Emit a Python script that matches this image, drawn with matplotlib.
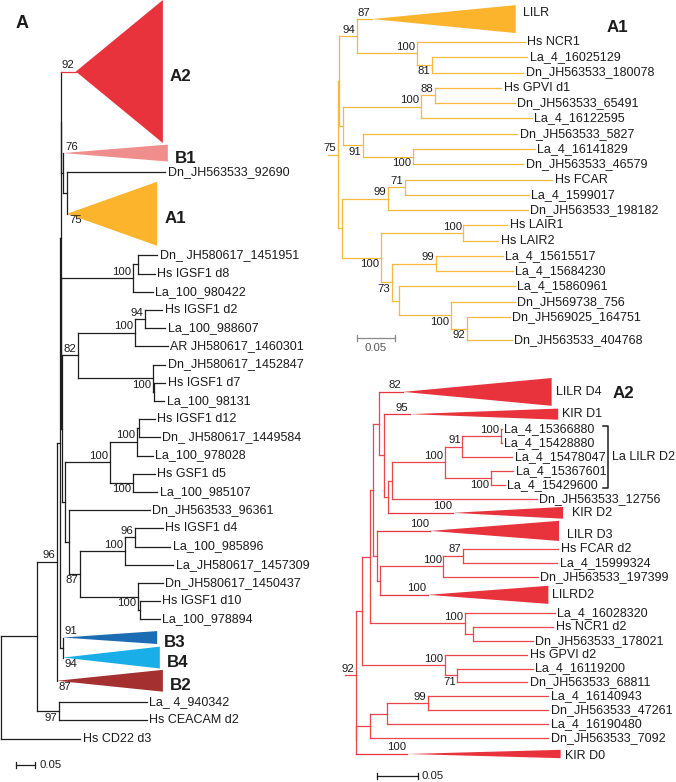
import matplotlib
matplotlib.use("Agg")
import matplotlib.pyplot as plt
from matplotlib.patches import Polygon

plt.rcParams['font.family'] = ['Liberation Sans', 'DejaVu Sans']

# ---- trees: (node, parent, depth from root in subst./site, bootstrap) ----
# internal nodes start with "n", everything else is a leaf or a collapsed clade

LEFT_TREE = [
    ("root", None, 0.0, None),
    ("n96", "root", 0.095, None),
    ("nbig", "n96", 0.147, 96),
    ("nx", "nbig", 0.155, None),
    ("ny", "nx", 0.157, None),
    ("nz", "ny", 0.159, None),
    ("A2", "nz", 0.197, 92),
    ("nb1", "nz", 0.163, None),
    ("B1", "nb1", 0.163, 76),
    ("na1", "nb1", 0.174, None),
    ("Dn_JH563533_92690", "na1", 0.432, None),
    ("A1", "na1", 0.174, 75),
    ("nw", "ny", 0.158, None),
    ("nd8", "nw", 0.347, 100),
    ("nd8a", "nd8", 0.361, None),
    ("Dn_ JH580617_1451951", "nd8a", 0.411, None),
    ("Hs IGSF1 d8", "nd8a", 0.405, None),
    ("La_100_980422", "nd8", 0.400, None),
    ("nv", "nw", 0.160, None),
    ("n82", "nv", 0.203, 82),
    ("nd2", "n82", 0.353, 100),
    ("nd2a", "nd2", 0.379, 94),
    ("Hs IGSF1 d2", "nd2a", 0.424, None),
    ("La_100_988607", "nd2a", 0.432, None),
    ("AR JH580617_1460301", "nd2", 0.439, None),
    ("nd7", "n82", 0.399, 100),
    ("Dn_JH580617_1452847", "nd7", 0.432, None),
    ("nd7a", "nd7", 0.403, None),
    ("Hs IGSF1 d7", "nd7a", 0.432, None),
    ("La_100_98131", "nd7a", 0.429, None),
    ("n65", "nv", 0.168, None),
    ("nd12", "n65", 0.287, 100),
    ("nd12a", "nd12", 0.358, 100),
    ("nd12b", "nd12a", 0.362, None),
    ("Hs IGSF1 d12", "nd12b", 0.405, None),
    ("Dn_ JH580617_1449584", "nd12b", 0.418, None),
    ("La_100_978028", "nd12a", 0.400, None),
    ("nd5", "nd12", 0.347, 100),
    ("Hs GSF1 d5", "nd5", 0.405, None),
    ("La_100_985107", "nd5", 0.411, None),
    ("n69", "n65", 0.179, None),
    ("Dn_JH563533_96361", "n69", 0.392, None),
    ("n87", "n69", 0.208, 87),
    ("nd4", "n87", 0.326, 100),
    ("nd4a", "nd4", 0.353, 96),
    ("Hs IGSF1 d4", "nd4a", 0.426, None),
    ("La_100_985896", "nd4a", 0.445, None),
    ("La_JH580617_1457309", "nd4", 0.453, None),
    ("nd10", "n87", 0.361, 100),
    ("Dn_JH580617_1450437", "nd10", 0.426, None),
    ("nd10a", "nd10", 0.366, None),
    ("Hs IGSF1 d10", "nd10a", 0.418, None),
    ("La_100_978894", "nd10a", 0.418, None),
    ("nb34", "nx", 0.163, None),
    ("B3", "nb34", 0.163, 91),
    ("B4", "nb34", 0.163, 94),
    ("B2", "nbig", 0.147, 87),
    ("n97", "n96", 0.153, 97),
    ("La_ 4_940342", "n97", 0.384, None),
    ("Hs CEACAM d2", "n97", 0.384, None),
    ("Hs CD22 d3", "root", 0.208, None),
]
LEFT_BELOW = {"nd7", "nd5", "n87", "nd10", "A1", "B4", "B2", "n97"}
LEFT_CLADE_TIP = {"A2": 0.426, "B1": 0.439, "A1": 0.411, "B3": 0.411, "B4": 0.418, "B2": 0.426}
LEFT_ROWS = {"A2": 7.86, "B1": 1.1, "A1": 3.57, "B3": 1.0, "B4": 1.2, "B2": 1.35}
LEFT_CLADE_HEIGHT = {"A2": 7.86, "B1": 0.93, "A1": 3.52, "B3": 0.71, "B4": 1.2, "B2": 1.2}

A1_TREE = [
    ("r", None, 0.0, None),
    ("n75", "r", 0.013, 75),
    ("ns", "n75", 0.014, None),
    ("n94", "ns", 0.038, 94),
    ("LILR", "n94", 0.058, 87),
    ("nncr", "n94", 0.117, 100),
    ("Hs NCR1", "nncr", 0.259, None),
    ("n81", "nncr", 0.137, 81),
    ("La_4_16025129", "n81", 0.262, None),
    ("Dn_JH563533_180078", "n81", 0.257, None),
    ("nu", "ns", 0.020, None),
    ("ngp", "nu", 0.122, 100),
    ("n88", "ngp", 0.141, 88),
    ("Hs GPVI d1", "n88", 0.228, None),
    ("Dn_JH563533_65491", "n88", 0.246, None),
    ("La_4_16122595", "ngp", 0.268, None),
    ("n91", "nu", 0.046, 91),
    ("Dn_JH563533_5827", "n91", 0.249, None),
    ("n100c", "n91", 0.112, 100),
    ("La_4_16141829", "n100c", 0.272, None),
    ("Dn_JH563533_46579", "n100c", 0.257, None),
    ("nt", "n75", 0.018, None),
    ("n99", "nt", 0.079, 99),
    ("n71", "n99", 0.101, 71),
    ("Hs FCAR", "n71", 0.295, None),
    ("La_4_1599017", "n71", 0.264, None),
    ("Dn_JH563533_198182", "n99", 0.263, None),
    ("nlair", "nt", 0.070, 100),
    ("nlair2", "nlair", 0.178, 100),
    ("Hs LAIR1", "nlair2", 0.236, None),
    ("Hs LAIR2", "nlair2", 0.224, None),
    ("n73", "nlair", 0.084, 73),
    ("n99b", "n73", 0.142, 99),
    ("La_4_15615517", "n99b", 0.230, None),
    ("La_4_15684230", "n99b", 0.243, None),
    ("nv", "n73", 0.093, None),
    ("La_4_15860961", "nv", 0.246, None),
    ("n100f", "nv", 0.162, 100),
    ("Dn_JH569738_756", "n100f", 0.246, None),
    ("n92", "n100f", 0.183, 92),
    ("Dn_JH569025_164751", "n92", 0.239, None),
    ("Dn_JH563533_404768", "n92", 0.242, None),
]
A1_BELOW = {"n81", "n91", "n100c", "nlair", "n73", "n100f", "n92"}
A1_CLADE_TIP = {"LILR": 0.247}
A1_ROWS = {"LILR": 2.0, "Dn_JH563533_404768": 2.0}
A1_CLADE_HEIGHT = {"LILR": 1.83}

A2_TREE = [
    ("r", None, 0.0, None),
    ("n92", "r", 0.013, 92),
    ("n362", "n92", 0.021, None),
    ("n370", "n362", 0.030, None),
    ("n373", "n370", 0.034, None),
    ("n379", "n373", 0.041, None),
    ("LILR D4", "n379", 0.071, 82),
    ("n384", "n379", 0.048, None),
    ("KIR D1", "n384", 0.079, 95),
    ("n388", "n384", 0.052, None),
    ("n392", "n388", 0.057, None),
    ("nld2", "n392", 0.122, 100),
    ("n91", "nld2", 0.143, 91),
    ("n100f", "n91", 0.190, 100),
    ("La_4_15366880", "n100f", 0.191, None),
    ("La_4_15428880", "n100f", 0.191, None),
    ("La_4_15478047", "n91", 0.204, None),
    ("n100e", "nld2", 0.178, 100),
    ("La_4_15367601", "n100e", 0.205, None),
    ("La_4_15429600", "n100e", 0.195, None),
    ("Dn_JH563533_12756", "n392", 0.234, None),
    ("KIR D2", "n388", 0.132, 100),
    ("n377", "n373", 0.039, None),
    ("LILR D3", "n377", 0.104, 100),
    ("n380", "n377", 0.043, None),
    ("nfc", "n380", 0.120, 100),
    ("n87", "nfc", 0.144, 87),
    ("Hs FCAR d2", "n87", 0.260, None),
    ("La_4_15999324", "n87", 0.259, None),
    ("Dn_JH563533_197399", "nfc", 0.235, None),
    ("LILRD2", "n380", 0.101, 100),
    ("nncr", "n370", 0.146, 100),
    ("La_4_16028320", "nncr", 0.256, None),
    ("n473", "nncr", 0.156, None),
    ("Hs NCR1 d2", "n473", 0.254, None),
    ("Dn_JH563533_178021", "n473", 0.229, None),
    ("ngp", "n362", 0.122, 100),
    ("Hs GPVI d2", "ngp", 0.222, None),
    ("n71", "ngp", 0.137, 71),
    ("La_4_16119200", "n71", 0.229, None),
    ("Dn_JH563533_68811", "n71", 0.222, None),
    ("n356", "n92", 0.014, None),
    ("nw", "n356", 0.030, None),
    ("n387", "nw", 0.051, None),
    ("n99", "n387", 0.101, 99),
    ("La_4_16140943", "n99", 0.248, None),
    ("Dn_JH563533_47261", "n99", 0.248, None),
    ("La_4_16190480", "n387", 0.248, None),
    ("Dn_JH563533_7092", "nw", 0.248, None),
    ("KIR D0", "n356", 0.076, 100),
]
A2_BELOW = {"n100e", "n71"}
A2_CLADE_TIP = {"LILR D4": 0.252, "KIR D1": 0.260, "KIR D2": 0.266,
                "LILR D3": 0.261, "LILRD2": 0.248, "KIR D0": 0.263}
A2_ROWS = {"LILR D4": 2.0, "KIR D1": 1.2, "LILR D3": 1.6, "LILRD2": 1.6, "KIR D0": 1.3}
A2_CLADE_HEIGHT = {"LILR D4": 2.0, "KIR D1": 0.8, "KIR D2": 0.85,
                   "LILR D3": 1.45, "LILRD2": 1.3, "KIR D0": 0.6}
A2_BRACKET = ["La_4_15366880", "La_4_15429600"]

SCALE = 0.05

# colours
TEXT = '#1c1c1c'
LEFT_LINE = '#1e1e1e'
A1_LINE = '#f5b840'
A2_LINE = '#e8474c'
RED = '#e8333d'
ORANGE = '#fbb42b'
LEFT_COLORS = {"A2": RED, "B1": '#f08d8d', "A1": ORANGE,
               "B3": '#1b6cb2', "B4": '#1aaee8', "B2": '#a4302f'}
LW = 0.9


def draw_tree(ax, tree, rows, clade_tip, clade_height, colors, below,
              x0, y0, sx, ry, line_color, clade_font, shift=None):
    shift = shift or {}
    nodes = [t[0] for t in tree]
    parent = {t[0]: t[1] for t in tree}
    depth = {t[0]: t[2] for t in tree}
    support = {t[0]: t[3] for t in tree}
    kids = {n: [] for n in nodes}
    for n in nodes:
        if parent[n] is not None:
            kids[parent[n]].append(n)

    # leaves stacked top to bottom, internal nodes halfway between outer children
    y = {}
    pos = 0.0
    for n in nodes:
        if not kids[n]:
            span = rows.get(n, 1.0)
            y[n] = pos + span / 2
            pos += span
    for n in reversed(nodes):
        if kids[n]:
            y[n] = (y[kids[n][0]] + y[kids[n][-1]]) / 2

    X = lambda d: x0 + d * sx
    Y = lambda r: y0 + r * ry

    for n in nodes:
        p = parent[n]
        col = colors.get(n, line_color)
        if p is not None and depth[n] > depth[p]:
            ax.plot([X(depth[p]), X(depth[n])], [Y(y[n])] * 2, color=col, lw=LW)
        if kids[n]:
            ax.plot([X(depth[n])] * 2, [Y(y[kids[n][0]]), Y(y[kids[n][-1]])],
                    color=line_color, lw=LW)
        elif n in clade_tip:
            h = clade_height[n] * ry / 2
            tip = X(clade_tip[n])
            ax.add_patch(Polygon([(X(depth[n]), Y(y[n])), (tip, Y(y[n]) - h),
                                  (tip, Y(y[n]) + h)], closed=True,
                                 facecolor=col, edgecolor='none'))
            dx, dy = shift.get(n, (0, 0))
            ax.text(tip + 4 + dx, Y(y[n]) + dy, n, ha='left', va='center',
                    color=TEXT, **clade_font)
        else:
            ax.text(X(depth[n]) + 2.5, Y(y[n]), n, ha='left', va='center',
                    fontsize=9, color=TEXT)

        if support[n] is not None:
            if n in clade_tip and depth[n] == depth[p]:
                sxp, ha = X(depth[p]) + 2, 'left'
            else:
                sxp, ha = X(depth[n]) - 1.5, 'right'
            if n in below:
                ax.text(sxp, Y(y[n]) + 1.5, str(support[n]), ha=ha, va='top',
                        fontsize=8.2, color=TEXT)
            else:
                ax.text(sxp, Y(y[n]) - 1.5, str(support[n]), ha=ha, va='bottom',
                        fontsize=8.2, color=TEXT)
    return {n: Y(y[n]) for n in nodes}


def scale_bar(ax, x, y, length, color):
    ax.plot([x, x + length], [y, y], color=color, lw=LW)
    ax.plot([x, x], [y - 3, y + 3], color=color, lw=LW)
    ax.plot([x + length] * 2, [y - 3, y + 3], color=color, lw=LW)


fig = plt.figure(figsize=(6.76, 7.82), dpi=100)
ax = fig.add_axes([0, 0, 1, 1])
ax.set_xlim(0, 676)
ax.set_ylim(782, 0)
ax.axis('off')

# left: whole tree A
big = dict(fontsize=12.2, fontweight='bold')
draw_tree(ax, LEFT_TREE, LEFT_ROWS, LEFT_CLADE_TIP, LEFT_CLADE_HEIGHT, LEFT_COLORS,
          LEFT_BELOW, x0=1, y0=0, sx=380, ry=18.2, line_color=LEFT_LINE,
          clade_font=big, shift={k: (3, 5) for k in LEFT_CLADE_TIP})
ax.text(16, 24, "A", fontsize=13, fontweight='bold', color=TEXT, ha='left', va='center')
scale_bar(ax, 16, 765, SCALE * 380, LEFT_LINE)
ax.text(39, 765, "0.05", fontsize=8.2, color=TEXT, ha='left', va='center')

# top right: A1 subtree
draw_tree(ax, A1_TREE, A1_ROWS, A1_CLADE_TIP, A1_CLADE_HEIGHT, {"LILR": ORANGE},
          A1_BELOW, x0=328, y0=3.8, sx=760, ry=15.28, line_color=A1_LINE,
          clade_font=dict(fontsize=9), shift={"LILR": (3, -6)})
ax.text(607, 27, "A1", fontsize=12.2, fontweight='bold', color=TEXT, ha='left', va='center')
scale_bar(ax, 357, 338, SCALE * 760, '#8a8a8a')
ax.text(357 + SCALE * 380, 343, "0.05", fontsize=8.2, color='#555555', ha='center', va='top')

# bottom right: A2 subtree
ypos = draw_tree(ax, A2_TREE, A2_ROWS, A2_CLADE_TIP, A2_CLADE_HEIGHT,
                 {k: RED for k in A2_CLADE_TIP}, A2_BELOW, x0=345, y0=378,
                 sx=820, ry=13.9, line_color=A2_LINE, clade_font=dict(fontsize=9),
                 shift={"KIR D2": (5, 0), "LILR D3": (4, 4), "KIR D0": (0, 2)})
ax.text(613, 393, "A2", fontsize=12.2, fontweight='bold', color=TEXT, ha='left', va='center')
top, bot = ypos[A2_BRACKET[0]] - 3, ypos[A2_BRACKET[1]] + 3
ax.plot([603, 608, 608, 603], [top, top, bot, bot], color=TEXT, lw=1.1)
ax.text(612, (top + bot) / 2, "La LILR D2", fontsize=9, color=TEXT, ha='left', va='center')
scale_bar(ax, 377, 776, SCALE * 820, TEXT)
ax.text(421, 776, "0.05", fontsize=8.2, color=TEXT, ha='left', va='center')

fig.savefig("out.png", dpi=100)
